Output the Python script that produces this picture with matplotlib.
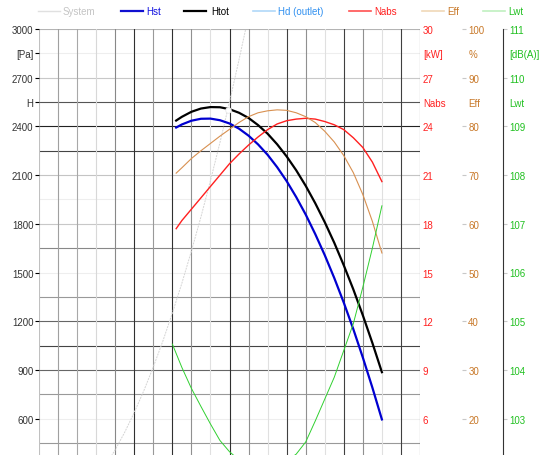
import matplotlib
matplotlib.use("Agg")
import matplotlib.pyplot as plt
from matplotlib.lines import Line2D

plt.rcParams["font.family"] = ["Liberation Sans", "DejaVu Sans"]
plt.rcParams["font.size"] = 7

# flow axis has no labels: x is in grid divisions (0..20)
q_fan = [7.2, 7.5, 8.0, 8.5, 9.0, 9.5, 10.0, 10.5, 11.0, 11.5, 12.0, 12.5,
         13.0, 13.5, 14.0, 14.5, 15.0, 15.5, 16.0, 16.5, 17.0, 17.5, 18.0]
h_st = [2393, 2412, 2435, 2447, 2448, 2438, 2418, 2386, 2343, 2289, 2225, 2149,
        2063, 1965, 1857, 1737, 1607, 1466, 1314, 1151, 976, 791, 595]
h_tot = [2436, 2459, 2490, 2510, 2519, 2518, 2506, 2484, 2452, 2408, 2355, 2290,
         2215, 2130, 2034, 1927, 1810, 1683, 1544, 1396, 1236, 1066, 886]
n_abs = [17.7, 18.2, 18.9, 19.6, 20.3, 21.0, 21.7, 22.3, 22.85, 23.35, 23.8, 24.15,
         24.35, 24.45, 24.5, 24.45, 24.3, 24.1, 23.8, 23.3, 22.7, 21.8, 20.6]
eff = [70.4, 71.5, 73.4, 75.0, 76.5, 78.0, 79.4, 80.8, 82.0, 82.8, 83.2, 83.4,
       83.3, 82.8, 82.0, 80.8, 79.0, 76.8, 74.0, 70.5, 66.0, 60.5, 54.0]

q_lwt = [7.0, 7.5, 8.0, 8.5, 9.0, 9.5, 10.0, 10.5, 11.0, 11.5, 12.0, 12.5,
         13.0, 13.5, 14.0, 14.5, 15.0, 15.5, 16.0, 16.5, 17.0, 17.5, 18.0]
lwt = [104.53, 104.05, 103.62, 103.25, 102.89, 102.55, 102.32, 102.15, 102.05, 101.98,
       101.97, 102.03, 102.13, 102.27, 102.52, 102.95, 103.4, 103.85, 104.4, 104.95,
       105.7, 106.5, 107.37]

q_sys = [3.5, 4.0, 4.5, 5.0, 5.5, 6.0, 6.5, 7.0, 7.5, 8.0, 8.5, 9.0, 9.5, 10.0, 10.5, 10.85]
h_sys = [312, 408, 516, 638, 771, 918, 1077, 1250, 1434, 1632, 1842, 2066, 2301, 2550, 2811, 3000]
op_q, op_h = 9.92, 2503

pa_ticks = [3000, 2850, 2700, 2550, 2400, 2100, 1800, 1500, 1200, 900, 600]
pa_labels = ["3000", "[Pa]", "2700", "H", "2400", "2100", "1800", "1500", "1200", "900", "600"]
kw_ticks = [30, 28.5, 27, 25.5, 24, 21, 18, 15, 12, 9, 6]
kw_labels = ["30", "[kW]", "27", "Nabs", "24", "21", "18", "15", "12", "9", "6"]
eff_ticks = [100, 95, 90, 85, 80, 70, 60, 50, 40, 30, 20]
eff_labels = ["100", "%", "90", "Eff", "80", "70", "60", "50", "40", "30", "20"]
lwt_ticks = [111, 110.5, 110, 109.5, 109, 108, 107, 106, 105, 104, 103]
lwt_labels = ["111", "[dB(A)]", "110", "Lwt", "109", "108", "107", "106", "105", "104", "103"]

# grid line shades, top to bottom (every 150 Pa) and left to right (every division)
h_grid = ["#b4b4b4", "#eeeeee", "#c8c8c8", "#555555", "#222222", "#444444", "#c4c4c4",
          "#eeeeee", "#c8c8c8", "#888888", "#eeeeee", "#999999", "#666666", "#444444",
          "#666666", "#999999", "#eeeeee", "#999999"]
v_grid = ["#c0c0c0", "#a0a0a0", "#a8a8a8", "#d8d8d8", "#888888", "#303030", "#999999",
          "#303030", "#909090", "#e0e0e0", "#303030", "#909090", "#e0e0e0", "#404040",
          "#909090", "#e0e0e0", "#404040", "#909090", "#e0e0e0", "#404040", "#606060"]

RED = "#ff2020"
TAN = "#c87828"
GREEN = "#20c020"

W, H = 548, 456
fig = plt.figure(figsize=(W / 100, H / 100), dpi=100)
x0, x1, ytop = 39, 420, 30
ax = fig.add_axes([x0 / W, 0, (x1 - x0) / W, 1 - ytop / H])
ymin = 3000 - (H - ytop) * 300 / 48.7
ax.set_xlim(0, 20)
ax.set_ylim(ymin, 3000)
for s in ax.spines.values():
    s.set_visible(False)
ax.set_xticks([])

for i, c in enumerate(h_grid):
    ax.axhline(3000 - 150 * i, color=c, lw=0.8, zorder=0)
for k, c in enumerate(v_grid):
    ax.axvline(k, color=c, lw=0.8, zorder=0)

ax.set_yticks(pa_ticks)
ax.set_yticklabels(pa_labels, color="#333333")
ax.tick_params(axis="y", length=3, width=0.8, pad=1)
for t, v in zip(ax.yaxis.get_major_ticks(), pa_ticks):
    t.tick1line.set_color(h_grid[int(round((3000 - v) / 150))])

ax.plot(q_sys, h_sys, color="#d4d4d4", lw=0.7, ls=(0, (2, 1)), zorder=2)
ax.plot(q_fan, h_st, color="#0000d0", lw=1.6, zorder=4)
ax.plot(q_fan, h_tot, color="black", lw=1.6, zorder=4)
ax.plot([op_q], [op_h], "o", ms=4, mfc="white", mec="#e8e8e8", mew=0.6, zorder=5)

ax_n = ax.twinx()
ax_n.set_ylim(ymin / 100, 30)
ax_n.plot(q_fan, n_abs, color=RED, lw=1.0, zorder=3)
ax_n.set_yticks(kw_ticks)
ax_n.set_yticklabels(kw_labels, color=RED)
ax_n.tick_params(axis="y", length=0, pad=2)

ax_e = ax.twinx()
ax_e.set_ylim(ymin / 30, 100)
ax_e.plot(q_fan, eff, color="#d89050", lw=0.8, zorder=3)
ax_e.spines["right"].set_position(("axes", (462 - x0) / (x1 - x0)))
ax_e.set_yticks(eff_ticks)
ax_e.set_yticklabels(eff_labels, color=TAN)
ax_e.tick_params(axis="y", length=3, width=0.8, pad=1.5, color="#c8c8c8")

ax_l = ax.twinx()
ax_l.set_ylim(101 + ymin / 300, 111)
ax_l.plot(q_lwt, lwt, color="#30d030", lw=0.7, zorder=3)
ax_l.spines["right"].set_position(("axes", (503 - x0) / (x1 - x0)))
ax_l.set_yticks(lwt_ticks)
ax_l.set_yticklabels(lwt_labels, color=GREEN)
ax_l.tick_params(axis="y", length=3, width=0.8, pad=1.5, color="#c8c8c8")

for a in (ax_n, ax_e, ax_l):
    for s in a.spines.values():
        s.set_visible(False)
    a.set_xticks([])
ax_l.spines["right"].set_visible(True)
ax_l.spines["right"].set_color("#333333")
ax_l.spines["right"].set_linewidth(0.8)

# unit rows carry no tick mark; every third numeric row has a dark one
for a in (ax_e, ax_l):
    for i, t in enumerate(a.yaxis.get_major_ticks()):
        if i in (1, 3):
            t.tick2line.set_visible(False)
        elif i in (4, 7, 10):
            t.tick2line.set_color("#222222")

# legend row
legend = [("System", "#e0e0e0", "#c4c4c4", 1.0, 38, 63),
          ("Hst", "#1010d0", "#1010e0", 1.6, 121, 146),
          ("Htot", "black", "black", 1.6, 184, 211),
          ("Hd (outlet)", "#b0d8f8", "#3090f0", 1.2, 253, 278),
          ("Nabs", "#ff5050", RED, 1.2, 349, 374),
          ("Eff", "#f0d8b8", TAN, 1.2, 422, 447),
          ("Lwt", "#c0f0c0", GREEN, 1.2, 483, 508)]
ly = 1 - 12 / H
for name, lc, tc, lw, lx, tx in legend:
    fig.add_artist(Line2D([lx / W, (lx + 22) / W], [ly, ly], color=lc, lw=lw))
    fig.text(tx / W, ly, name, color=tc, va="center", ha="left")

fig.savefig("out.png", dpi=100)
